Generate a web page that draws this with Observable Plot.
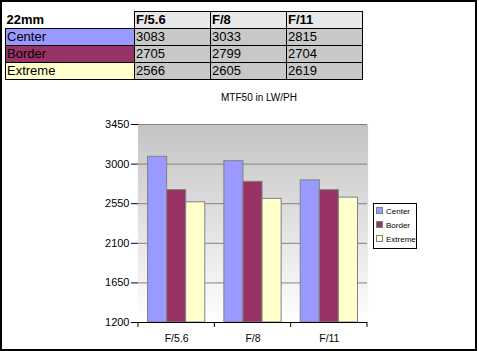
<!DOCTYPE html>
<html>
<head>
<meta charset="utf-8">
<script src="https://cdn.jsdelivr.net/npm/d3@7"></script>
<script src="https://cdn.jsdelivr.net/npm/@observablehq/plot@0.6"></script>
<style>
  body { margin: 0; background: #fff; font-family: Arial, "Liberation Sans", sans-serif; }
  #wrap { position: relative; width: 479px; height: 351px; overflow: hidden; background: #fff; }
  #frame { position: absolute; left: 0; top: 0; width: 477px; height: 351px; box-sizing: border-box; border: 2px solid #000; z-index: 5; pointer-events: none; }
  #tbl { position: absolute; left: 5px; top: 11px; border-collapse: collapse; font-size: 13px; color: #000; }
  #tbl td { height: 16px; padding: 0 0 0 1px; line-height: 16px; border: 1px solid #000; white-space: nowrap; }
  #tbl td.c0 { width: 127px; }
  #tbl td.cv { width: 74px; background: #c8c8c8; }
  #tbl tr.hd td { font-weight: bold; }
  #tbl tr.hd td.cv { background: #e8e8e8; }
  #tbl tr.hd td.c0 { border-top: none; border-left: none; background: #fff; }
  #title { position: absolute; left: 159px; width: 200px; top: 92px; text-align: center; font-size: 10px; color: #000; }
  #chart { position: absolute; left: 0; top: 0; }
  #legend { position: absolute; left: 373px; top: 203px; width: 44px; height: 46px; box-sizing: border-box; border: 1px solid #000; background: #fff; font-size: 8px; }
  #legend .it { position: absolute; left: 2px; height: 10px; line-height: 10px; white-space: nowrap; }
  #legend .sw { display: inline-block; width: 5px; height: 5px; border: 1px solid #808080; margin-right: 3px; vertical-align: middle; position: relative; top: -1px; }
</style>
</head>
<body>
<div id="wrap">
  <div id="frame"></div>
  <table id="tbl"></table>
  <div id="title"></div>
  <div id="chart"></div>
  <div id="legend"></div>
</div>
<script>
const groups = ["F/5.6", "F/8", "F/11"];
const series = ["Center", "Border", "Extreme"];
const center = [3083, 3033, 2815];
const border = [2705, 2799, 2704];
const extreme = [2566, 2605, 2619];
const yTicks = [1200, 1650, 2100, 2550, 3000, 3450];
const colors = ["#9999ff", "#993366", "#ffffcc"];
const tableCorner = "22mm";
const chartTitle = "MTF50 in LW/PH";

const values = [center, border, extreme];
const data = groups.flatMap((g, i) => series.map((s, k) => ({group: g, series: s, value: values[k][i]})));

// Table
const tbl = d3.select("#tbl");
const hr = tbl.append("tr").attr("class", "hd");
hr.append("td").attr("class", "c0").text(tableCorner);
groups.forEach(g => hr.append("td").attr("class", "cv").text(g));
series.forEach((s, k) => {
  const tr = tbl.append("tr");
  tr.append("td").attr("class", "c0").style("background", colors[k]).text(s);
  values[k].forEach(v => tr.append("td").attr("class", "cv").text(v));
});

d3.select("#title").text(chartTitle);

// Legend
const lg = d3.select("#legend");
series.forEach((s, k) => {
  const it = lg.append("div").attr("class", "it").style("top", (3 + k * 14) + "px");
  it.append("span").attr("class", "sw").style("background", colors[k]);
  it.append("span").text(s);
});

const plot = Plot.plot({
  width: 477,
  height: 351,
  marginLeft: 138,
  marginRight: 110,
  marginTop: 124,
  marginBottom: 29,
  style: {background: "transparent", fontFamily: "Arial, 'Liberation Sans', sans-serif", fontSize: "11px", color: "#000", overflow: "visible"},
  facet: {data, x: "group"},
  fx: {domain: groups, padding: 0, round: false, axis: "bottom", tickSize: 0, tickPadding: 12, label: null, tickFormat: d => d},
  x: {domain: series, paddingInner: 0, paddingOuter: 0.5, round: false, axis: null},
  y: {domain: [1200, 3450], ticks: yTicks, tickSize: 7, tickPadding: 2, label: null, line: true, tickFormat: d => String(d)},
  color: {domain: series, range: colors},
  marks: [
    Plot.frame({fill: "url(#bg)", stroke: null, insetLeft: -0.6, insetRight: -0.6}),
    Plot.ruleY(yTicks.filter(t => t !== 1200), {stroke: "#808080", strokeWidth: 1}),
    Plot.barY(data, {x: "series", y1: d => 1200, y2: "value", fill: "series", stroke: "#808080", strokeWidth: 1, inset: 0}),
    Plot.ruleY([1200], {stroke: "#000", strokeWidth: 1})
  ]
});

const svg = d3.select(plot);
const defs = svg.insert("defs", ":first-child");
const grad = defs.append("linearGradient").attr("id", "bg").attr("x1", 0).attr("y1", 0).attr("x2", 0).attr("y2", 1);
grad.append("stop").attr("offset", "0%").attr("stop-color", "#c4c4c4");
grad.append("stop").attr("offset", "100%").attr("stop-color", "#ffffff");

// x-axis boundary ticks at the facet band edges, from the fx scale
const fxScale = Plot.scale({fx: plot.scale("fx")});
const yScale = Plot.scale({y: plot.scale("y")});
const edges = groups.map(g => fxScale.apply(g)).concat([fxScale.apply(groups[groups.length - 1]) + fxScale.bandwidth]);
const yb = yScale.apply(1200);
svg.append("g").selectAll("line").data(edges).join("line")
  .attr("x1", d => d).attr("x2", d => d).attr("y1", yb).attr("y2", yb + 5)
  .attr("stroke", "#000");
svg.selectAll("g[aria-label='fx-axis tick label'] text, g[aria-label='fx-axis'] text").style("font-size", "10.5px");

document.getElementById("chart").appendChild(plot);
</script>
</body>
</html>
